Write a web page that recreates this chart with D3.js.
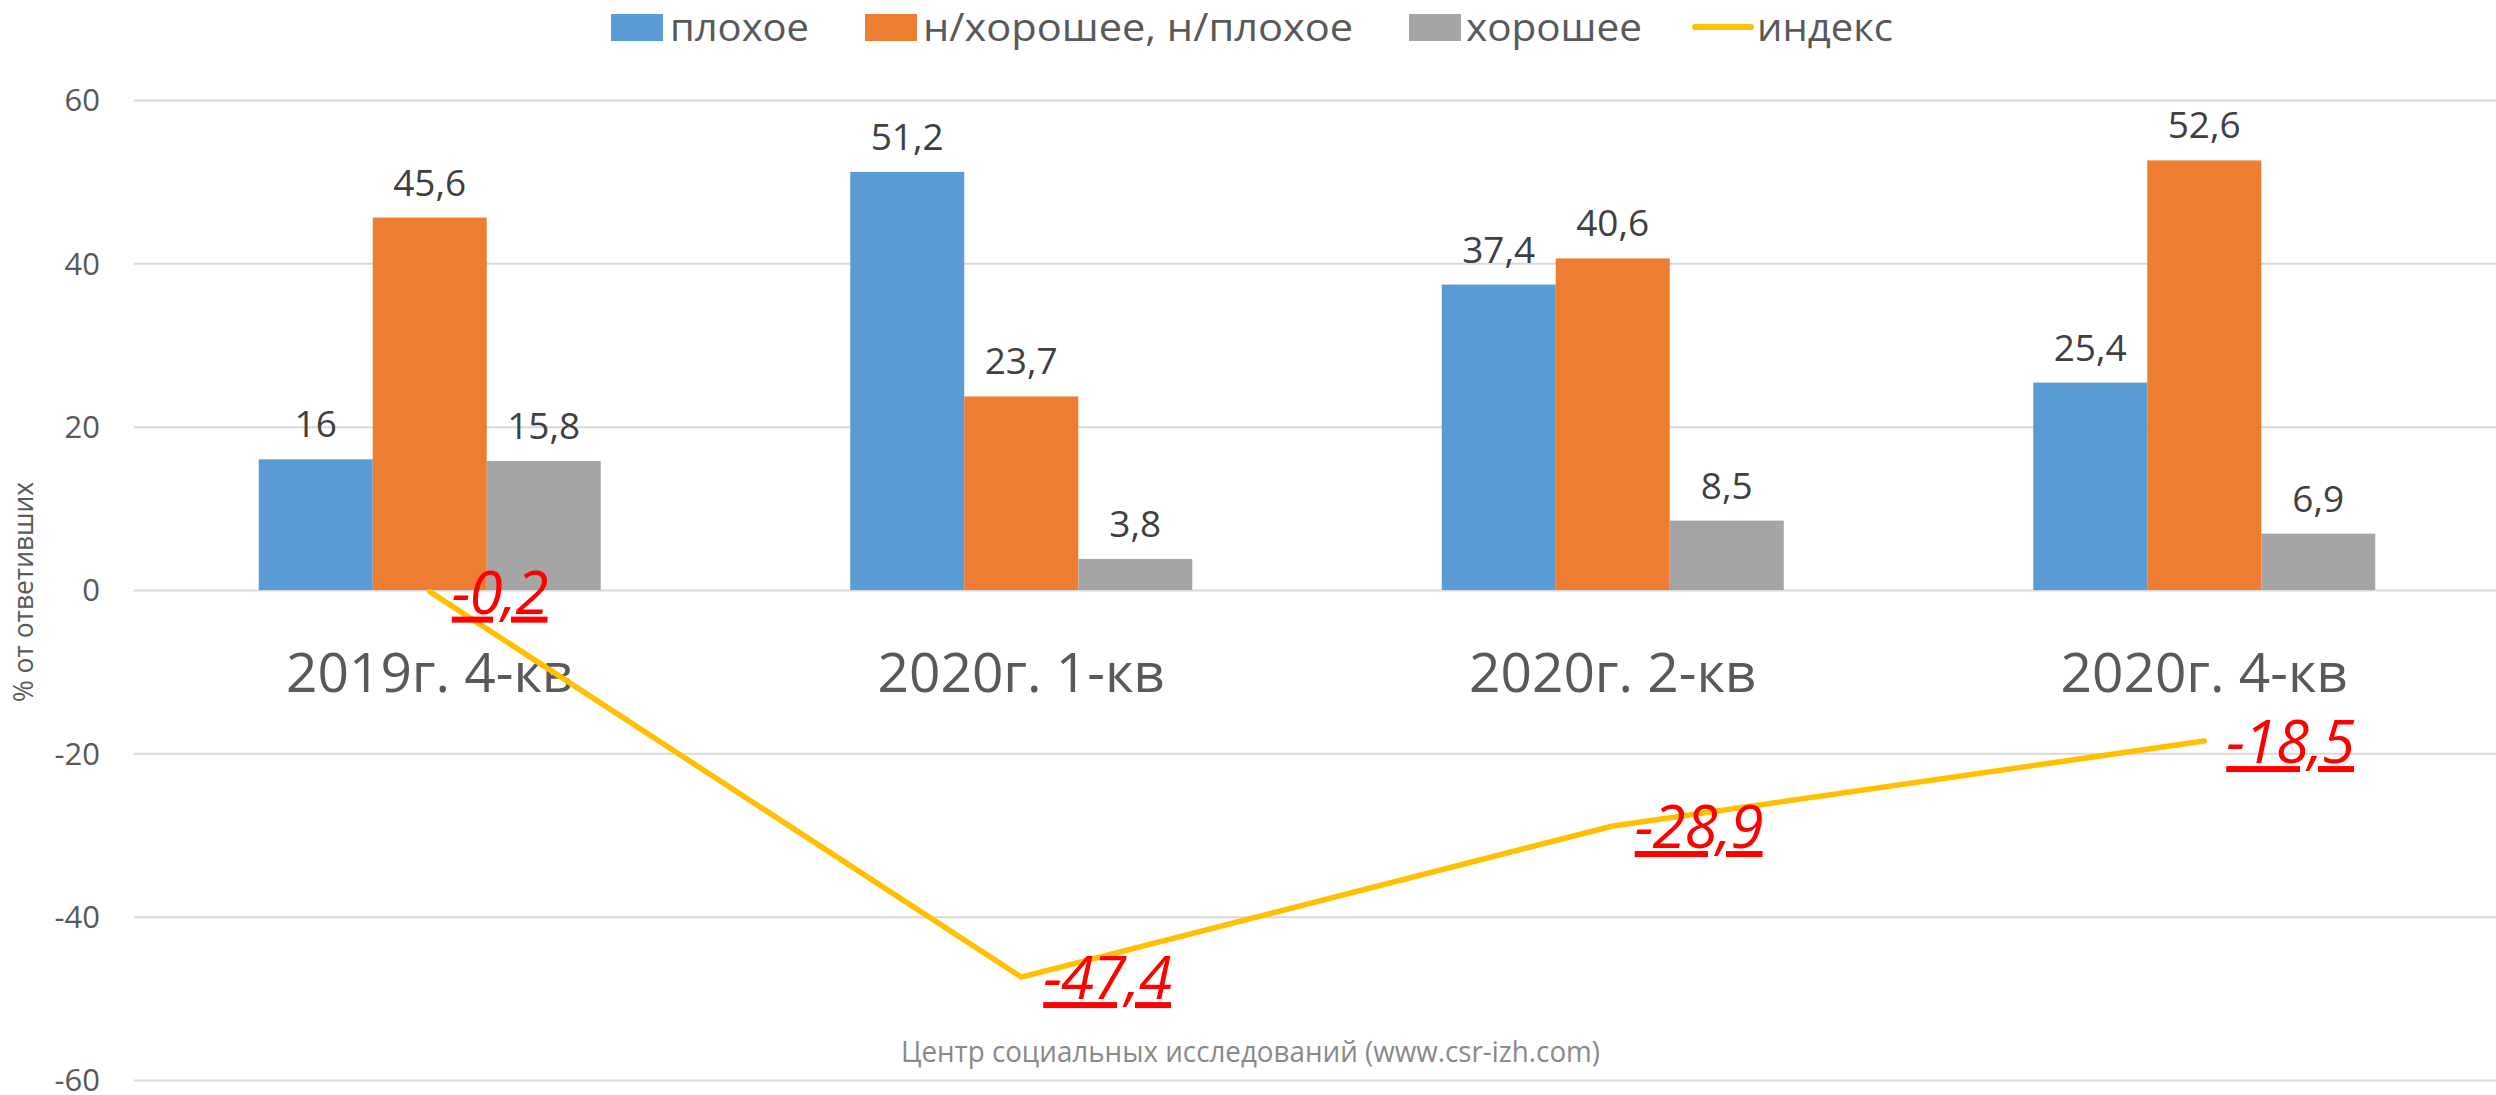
<!DOCTYPE html>
<html>
<head>
<meta charset="utf-8">
<script src="https://cdn.jsdelivr.net/npm/d3@7/dist/d3.min.js"></script>
<style>
  html, body { margin: 0; padding: 0; background: #fff; }
  svg { display: block; }
  text { font-family: "Open Sans", "Noto Sans", sans-serif; }
</style>
</head>
<body>
<svg id="chart" width="2496" height="1095"></svg>
<script>
// ---- data ----
const categories = ["2019г. 4-кв", "2020г. 1-кв", "2020г. 2-кв", "2020г. 4-кв"];
const seriesNames = ["плохое", "н/хорошее, н/плохое", "хорошее"];
const badValues = [16, 51.2, 37.4, 25.4];
const neutralValues = [45.6, 23.7, 40.6, 52.6];
const goodValues = [15.8, 3.8, 8.5, 6.9];
const indexValues = [-0.2, -47.4, -28.9, -18.5];
const indexName = "индекс";
const yTicks = [-60, -40, -20, 0, 20, 40, 60];
const yTitle = "% от ответивших";
const sourceText = "Центр социальных исследований (www.csr-izh.com)";

// ---- styles ----
const colors = ["#5B9BD5", "#ED7D31", "#A5A5A5"];
const lineColor = "#FFC000";
const series = [badValues, neutralValues, goodValues];

const svg = d3.select("#chart");
svg.append("rect").attr("width", 2496).attr("height", 1095).attr("fill", "#fff");

const x0 = d3.scaleBand().domain(categories).range([134, 2500]).padding(0);
const barW = 114;
const pOuter = (x0.bandwidth() / barW - 3) / 2;
const x1 = d3.scaleBand().domain(seriesNames).range([0, x0.bandwidth()])
  .paddingInner(0).paddingOuter(pOuter);
const y = d3.scaleLinear().domain([-60, 60]).range([1080, 100]);

// gridlines
const yAxis = d3.axisLeft(y).tickValues(yTicks).tickSize(-(2496 - 134)).tickFormat(d => d);
const gy = svg.append("g").attr("transform", "translate(134,0)").call(yAxis);
gy.select(".domain").remove();
gy.selectAll(".tick line").attr("stroke", "#D9D9D9").attr("stroke-width", 2);
gy.selectAll(".tick text")
  .attr("x", -34).attr("dy", "0.35em")
  .attr("fill", "#595959").style("font-size", "31px")
  .style("font-family", "'Open Sans', sans-serif");

// bars
const groups = svg.append("g").selectAll("g").data(categories).join("g")
  .attr("transform", d => `translate(${x0(d)},0)`);
seriesNames.forEach((name, si) => {
  groups.append("rect")
    .attr("x", x1(name))
    .attr("width", x1.bandwidth())
    .attr("y", (d, i) => y(Math.max(0, series[si][i])))
    .attr("height", (d, i) => Math.abs(y(series[si][i]) - y(0)))
    .attr("fill", colors[si]);
  groups.append("text")
    .attr("x", x1(name) + x1.bandwidth() / 2)
    .attr("y", (d, i) => y(series[si][i]) - 22)
    .attr("text-anchor", "middle")
    .attr("fill", "#404040")
    .style("font-size", "37px")
    .text((d, i) => String(series[si][i]).replace(".", ","));
});

// category labels
svg.append("g").selectAll("text").data(categories).join("text")
  .attr("x", d => x0(d) + x0.bandwidth() / 2)
  .attr("y", 692)
  .attr("text-anchor", "middle")
  .attr("fill", "#595959")
  .style("font-size", "55px")
  .text(d => d);

// index line
const line = d3.line()
  .x((d, i) => x0(categories[i]) + x0.bandwidth() / 2)
  .y(d => y(d));
svg.append("path").datum(indexValues)
  .attr("d", line)
  .attr("fill", "none")
  .attr("stroke", lineColor)
  .attr("stroke-width", 5.5)
  .attr("stroke-linecap", "round")
  .attr("stroke-linejoin", "round");

// index labels
svg.append("g").selectAll("text").data(indexValues).join("text")
  .attr("x", (d, i) => x0(categories[i]) + x0.bandwidth() / 2 + 22)
  .attr("y", d => y(d) + 22)
  .attr("fill", "#FF0000")
  .style("font-size", "60px")
  .style("font-style", "italic")
  .style("text-decoration", "underline")
  .style("text-decoration-thickness", "4px")
  .style("letter-spacing", "-1px")
  .text(d => String(d).replace(".", ","));

// y title
svg.append("text")
  .attr("transform", "translate(33,592) rotate(-90)")
  .attr("text-anchor", "middle")
  .attr("fill", "#595959")
  .style("font-size", "28px")
  .attr("textLength", 220)
  .attr("lengthAdjust", "spacingAndGlyphs")
  .text(yTitle);

// source
svg.append("text")
  .attr("x", 901).attr("y", 1062)
  .attr("fill", "#898989")
  .style("font-size", "29px")
  .attr("textLength", 699)
  .attr("lengthAdjust", "spacingAndGlyphs")
  .text(sourceText);

// legend
const legendItems = [
  { name: seriesNames[0], color: colors[0], kx: 611, tx: 670, tw: 139, type: "rect" },
  { name: seriesNames[1], color: colors[1], kx: 865, tx: 923, tw: 430, type: "rect" },
  { name: seriesNames[2], color: colors[2], kx: 1409, tx: 1466, tw: 176, type: "rect" },
  { name: indexName, color: lineColor, kx: 1695, tx: 1757, tw: 136, type: "line" }
];
const lg = svg.append("g");
legendItems.forEach(it => {
  if (it.type === "rect") {
    lg.append("rect").attr("x", it.kx).attr("y", 14).attr("width", 52).attr("height", 27).attr("fill", it.color);
  } else {
    lg.append("line").attr("x1", it.kx).attr("x2", it.kx + 56).attr("y1", 27).attr("y2", 27)
      .attr("stroke", it.color).attr("stroke-width", 6).attr("stroke-linecap", "round");
  }
  lg.append("text").attr("x", it.tx).attr("y", 41)
    .attr("fill", "#595959").style("font-size", "38px")
    .attr("textLength", it.tw).attr("lengthAdjust", "spacingAndGlyphs")
    .text(it.name);
});
</script>
</body>
</html>
